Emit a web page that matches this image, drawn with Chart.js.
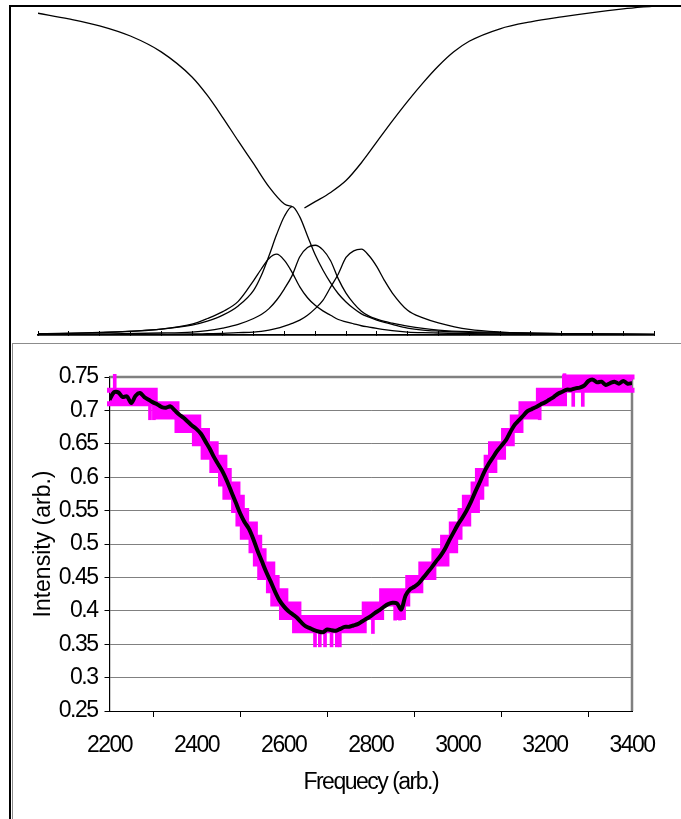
<!DOCTYPE html>
<html lang="en">
<head>
<meta charset="utf-8">
<title>Polariton branches and measured intensity</title>
<script src="https://cdn.jsdelivr.net/npm/chart.js@4.4.1/dist/chart.umd.min.js"></script>
<style>
  html, body { margin: 0; padding: 0; background: #fff; }
  body { width: 681px; height: 819px; position: relative; overflow: hidden; }
  /* black frame on left and top of the page */
  #frame { position: absolute; left: 9px; top: 5px; width: 680px; height: 820px;
           border-left: 2px solid #000; border-top: 2px solid #000; pointer-events: none; }
  #topBox { position: absolute; left: 0; top: 0; width: 681px; height: 342px; }
  #bottomBox { position: absolute; left: 12px; top: 343px; width: 670px; height: 480px;
               border: 1px solid #8c8c8c; }
  #bottomInner { position: relative; width: 670px; height: 474px; }
</style>
</head>
<body>
<div id="topBox"><canvas id="topChart"></canvas></div>
<div id="bottomBox"><div id="bottomInner"><canvas id="bottomChart"></canvas></div></div>
<div id="frame"></div>
<script>
// ---- top panel: branches and peaks (arbitrary units, x 0..20, y 0..1) ----
var branchLeftX = [0, 1, 2, 3, 4, 5, 5.5, 6, 6.5, 7, 7.5, 8, 8.25];
var branchLeftY = [0.975, 0.958, 0.937, 0.906, 0.858, 0.782, 0.726, 0.659, 0.588, 0.519, 0.449, 0.397, 0.389];
var branchRightX = [8.65, 9, 9.5, 10, 10.5, 11, 11.5, 12, 12.5, 13, 13.5, 14, 15, 16, 17, 18, 19, 20];
var branchRightY = [0.385, 0.404, 0.432, 0.468, 0.522, 0.585, 0.648, 0.708, 0.764, 0.815, 0.858, 0.89, 0.928, 0.949, 0.964, 0.977, 0.988, 0.997];

var peakX = [0, 2, 4, 5, 5.5, 6, 6.5, 7, 7.25, 7.5, 7.75, 8, 8.25, 8.5, 8.75, 9, 9.25, 9.5, 9.75, 10,
             10.25, 10.5, 10.75, 11, 11.25, 11.5, 12, 12.5, 13, 14, 15, 17, 20];
var peakTall = [0.004, 0.008, 0.018, 0.03, 0.042, 0.06, 0.088, 0.135, 0.18, 0.24, 0.305, 0.36, 0.389, 0.358, 0.3, 0.243, 0.197, 0.158, 0.125, 0.1,
                0.08, 0.064, 0.054, 0.045, 0.038, 0.032, 0.021, 0.015, 0.012, 0.008, 0.006, 0.004, 0.002];
var peakA = [0.003, 0.007, 0.018, 0.033, 0.05, 0.071, 0.102, 0.165, 0.2, 0.232, 0.245, 0.226, 0.19, 0.146, 0.113, 0.09, 0.073, 0.06, 0.047, 0.04,
             0.034, 0.028, 0.024, 0.02, 0.016, 0.013, 0.009, 0.007, 0.006, 0.004, 0.003, 0.002, 0.001];
var peakB = [0.001, 0.003, 0.006, 0.009, 0.013, 0.021, 0.032, 0.05, 0.062, 0.08, 0.106, 0.14, 0.18, 0.237, 0.265, 0.272, 0.258, 0.225, 0.17, 0.127,
             0.096, 0.072, 0.057, 0.048, 0.041, 0.036, 0.027, 0.02, 0.015, 0.01, 0.008, 0.004, 0.002];
var peakC = [0.001, 0.001, 0.002, 0.003, 0.004, 0.005, 0.007, 0.009, 0.011, 0.015, 0.02, 0.027, 0.035, 0.045, 0.06, 0.08, 0.105, 0.145, 0.185, 0.235,
             0.255, 0.26, 0.24, 0.207, 0.165, 0.128, 0.075, 0.052, 0.037, 0.017, 0.009, 0.004, 0.002];

// ---- bottom panel: intensity vs frequency ----
var freq = [];  // 2200..3400 every 10
for (var f = 2200; f <= 3400; f += 10) freq.push(f);

var smooth = [
  0.716, 0.727, 0.727, 0.720, 0.721, 0.711, 0.722, 0.726, 0.720, 0.716,
  0.712, 0.709, 0.705, 0.704, 0.706, 0.700, 0.694, 0.689, 0.683, 0.677,
  0.672, 0.665, 0.654, 0.643, 0.630, 0.619, 0.608, 0.594, 0.578, 0.562,
  0.546, 0.533, 0.523, 0.508, 0.490, 0.474, 0.458, 0.444, 0.429, 0.416,
  0.407, 0.400, 0.395, 0.390, 0.383, 0.377, 0.374, 0.371, 0.369, 0.368,
  0.372, 0.371, 0.370, 0.373, 0.376, 0.376, 0.378, 0.380, 0.384, 0.388,
  0.392, 0.397, 0.401, 0.406, 0.410, 0.412, 0.411, 0.402, 0.423, 0.432,
  0.436, 0.441, 0.449, 0.457, 0.465, 0.474, 0.482, 0.492, 0.505, 0.517,
  0.529, 0.539, 0.550, 0.563, 0.578, 0.592, 0.607, 0.619, 0.629, 0.639,
  0.647, 0.655, 0.667, 0.678, 0.685, 0.692, 0.699, 0.702, 0.705, 0.709,
  0.712, 0.716, 0.720, 0.725, 0.728, 0.731, 0.731, 0.733, 0.734, 0.737,
  0.744, 0.746, 0.742, 0.743, 0.738, 0.741, 0.743, 0.740, 0.744, 0.740,
  0.741
];

// raw (quantised) data: lowest and highest level hit in each 10-unit bin
var rawLow = [
  0.71, 0.71, 0.71, 0.71, 0.71, 0.71, 0.71, 0.71, 0.71, 0.71,
  0.71, 0.69, 0.69, 0.69, 0.69, 0.69, 0.67, 0.67, 0.67, 0.67,
  0.65, 0.65, 0.63, 0.63, 0.61, 0.61, 0.59, 0.57, 0.57, 0.55,
  0.53, 0.51, 0.51, 0.49, 0.47, 0.45, 0.45, 0.43, 0.41, 0.41,
  0.39, 0.39, 0.39, 0.37, 0.37, 0.37, 0.37, 0.37, 0.37, 0.37,
  0.37, 0.37, 0.37, 0.37, 0.37, 0.37, 0.37, 0.37, 0.37, 0.39,
  0.39, 0.39, 0.39, 0.41, 0.41, 0.41, 0.41, 0.39, 0.41, 0.43,
  0.43, 0.43, 0.45, 0.45, 0.45, 0.47, 0.47, 0.47, 0.49, 0.49,
  0.51, 0.53, 0.53, 0.55, 0.55, 0.57, 0.59, 0.61, 0.61, 0.63,
  0.63, 0.65, 0.65, 0.67, 0.67, 0.69, 0.69, 0.69, 0.69, 0.71,
  0.71, 0.71, 0.71, 0.71, 0.71, 0.73, 0.73, 0.73, 0.73, 0.73,
  0.73, 0.73, 0.73, 0.73, 0.73, 0.73, 0.73, 0.73, 0.73, 0.73,
  0.73
];
var rawHigh = [
  0.73, 0.73, 0.73, 0.73, 0.73, 0.73, 0.73, 0.73, 0.73, 0.73,
  0.73, 0.71, 0.71, 0.71, 0.71, 0.71, 0.69, 0.69, 0.69, 0.69,
  0.69, 0.67, 0.67, 0.65, 0.65, 0.63, 0.63, 0.61, 0.59, 0.59,
  0.57, 0.55, 0.53, 0.53, 0.51, 0.49, 0.47, 0.47, 0.45, 0.43,
  0.43, 0.41, 0.41, 0.41, 0.39, 0.39, 0.39, 0.39, 0.39, 0.39,
  0.39, 0.39, 0.39, 0.39, 0.39, 0.39, 0.39, 0.39, 0.39, 0.41,
  0.41, 0.41, 0.41, 0.43, 0.43, 0.43, 0.43, 0.41, 0.43, 0.45,
  0.45, 0.45, 0.47, 0.47, 0.47, 0.49, 0.49, 0.51, 0.51, 0.53,
  0.53, 0.55, 0.57, 0.57, 0.59, 0.61, 0.61, 0.63, 0.65, 0.65,
  0.65, 0.67, 0.67, 0.69, 0.69, 0.71, 0.71, 0.71, 0.71, 0.73,
  0.73, 0.73, 0.73, 0.73, 0.73, 0.75, 0.75, 0.75, 0.75, 0.75,
  0.75, 0.75, 0.75, 0.75, 0.75, 0.75, 0.75, 0.75, 0.75, 0.75,
  0.75
];

// single-sample glitches in the raw trace
var spikeFreq = [2212, 2293, 2302, 2672, 2683, 2695, 2710, 2722, 2729, 2805, 2856, 2867, 3188, 3245, 3265, 3287];
var spikeLow  = [0.73, 0.686, 0.686, 0.346, 0.346, 0.346, 0.346, 0.346, 0.346, 0.366, 0.386, 0.386, 0.686, 0.73, 0.706, 0.706];
var spikeHigh = [0.754, 0.71, 0.71, 0.37, 0.37, 0.37, 0.37, 0.37, 0.37, 0.39, 0.41, 0.41, 0.71, 0.755, 0.73, 0.73];

var yTicks = [0.25, 0.3, 0.35, 0.4, 0.45, 0.5, 0.55, 0.6, 0.65, 0.7, 0.75];
var xTicks = [2200, 2400, 2600, 2800, 3000, 3200, 3400];

var sans = "'Liberation Sans', Arial, sans-serif";

function pts(xs, ys) {
  return xs.map(function (x, i) { return { x: x, y: ys[i] }; });
}

function topLine(xs, ys) {
  return {
    data: pts(xs, ys),
    borderColor: '#000',
    borderWidth: 1.3,
    pointRadius: 0,
    cubicInterpolationMode: 'monotone',
    fill: false
  };
}

new Chart(document.getElementById('topChart'), {
  type: 'line',
  data: {
    datasets: [
      topLine(branchLeftX, branchLeftY),
      topLine(branchRightX, branchRightY),
      topLine(peakX, peakTall),
      topLine(peakX, peakA),
      topLine(peakX, peakB),
      topLine(peakX, peakC)
    ]
  },
  options: {
    responsive: true,
    maintainAspectRatio: false,
    animation: false,
    layout: { padding: { left: 38, right: 27, top: 5, bottom: 5 } },
    plugins: { legend: { display: false }, tooltip: { enabled: false } },
    scales: {
      x: {
        type: 'linear', min: 0, max: 20,
        ticks: { display: false, stepSize: 1 },
        // negative length: tick marks point up into the plot
        grid: { drawOnChartArea: false, tickLength: -4, color: '#000' },
        border: { color: '#000', width: 1.8 },
        afterFit: function (s) { s.height = 2; }
      },
      y: { min: 0, max: 1, display: false }
    }
  }
});

// plot area border (top and right) like the spreadsheet frame,
// plus tight letter spacing for the condensed-looking labels
var plotFrame = {
  id: 'plotFrame',
  beforeDraw: function (chart) {
    var ys = chart.scales.y;
    if (ys && !ys._plainTitle) {
      var orig = ys.drawTitle;
      ys.drawTitle = function () {
        var c = this.ctx, prev = c.letterSpacing;
        c.letterSpacing = '0px';
        orig.call(this);
        c.letterSpacing = prev;
      };
      ys._plainTitle = true;
    }
    chart.ctx.letterSpacing = '-1.5px';
  },
  beforeDatasetsDraw: function (chart) {
    var a = chart.chartArea, ctx = chart.ctx;
    ctx.save();
    ctx.strokeStyle = '#808080';
    ctx.lineWidth = 2.5;
    ctx.beginPath();
    ctx.moveTo(a.left, a.top);
    ctx.lineTo(a.right, a.top);
    ctx.lineTo(a.right, a.bottom);
    ctx.stroke();
    ctx.restore();
  }
};

new Chart(document.getElementById('bottomChart'), {
  type: 'line',
  data: {
    datasets: [
      {
        label: 'Smoothed',
        data: pts(freq, smooth),
        borderColor: '#000',
        borderWidth: 4,
        pointRadius: 0,
        tension: 0.3,
        order: 0
      },
      {
        label: 'Raw high',
        data: pts(freq, rawHigh),
        borderColor: '#ff00ff',
        borderWidth: 5,
        borderCapStyle: 'square',
        stepped: 'middle',
        pointRadius: 0,
        fill: false,
        clip: false,
        order: 2
      },
      {
        label: 'Raw low',
        data: pts(freq, rawLow),
        borderColor: '#ff00ff',
        backgroundColor: '#ff00ff',
        borderWidth: 5,
        borderCapStyle: 'square',
        stepped: 'middle',
        pointRadius: 0,
        fill: '-1',
        clip: false,
        order: 3
      },
      {
        type: 'bar',
        label: 'Raw glitches',
        data: spikeFreq.map(function (x, i) { return { x: x, y: [spikeLow[i], spikeHigh[i]] }; }),
        backgroundColor: '#ff00ff',
        barThickness: 3,
        clip: false,
        order: 1
      }
    ]
  },
  options: {
    responsive: true,
    maintainAspectRatio: false,
    animation: false,
    layout: { padding: { left: 0, right: 51, top: 33, bottom: 22 } },
    plugins: { legend: { display: false }, tooltip: { enabled: false } },
    scales: {
      x: {
        type: 'linear', min: 2200, max: 3400, offset: false,
        afterBuildTicks: function (s) { s.ticks = xTicks.map(function (v) { return { value: v }; }); },
        ticks: {
          padding: 15, color: '#000', maxRotation: 0,
          font: { family: sans, size: 23 },
          callback: function (v) { return String(v); }
        },
        grid: { drawOnChartArea: false, tickLength: 6, color: '#000' },
        border: { color: '#000', width: 1 },
        title: {
          display: true, text: 'Frequecy (arb.)', color: '#000',
          font: { family: sans, size: 23 }, padding: { top: 0, bottom: 0 }
        },
        afterFit: function (s) { s.height = 85; }
      },
      y: {
        min: 0.25, max: 0.75,
        afterBuildTicks: function (s) { s.ticks = yTicks.map(function (v) { return { value: v }; }); },
        ticks: {
          padding: 7, color: '#000',
          font: { family: sans, size: 23 },
          callback: function (v) { return String(Number(v.toFixed(2))); }
        },
        grid: { color: '#808080', lineWidth: 1, tickLength: 5, tickColor: '#000' },
        border: { color: '#000', width: 1.2 },
        title: {
          display: true, text: 'Intensity (arb.)', color: '#000',
          font: { family: sans, size: 23 }, padding: { top: 17, bottom: 0 }
        },
        afterFit: function (s) { s.width = 96.5; }
      }
    }
  },
  plugins: [plotFrame]
});
</script>
</body>
</html>
